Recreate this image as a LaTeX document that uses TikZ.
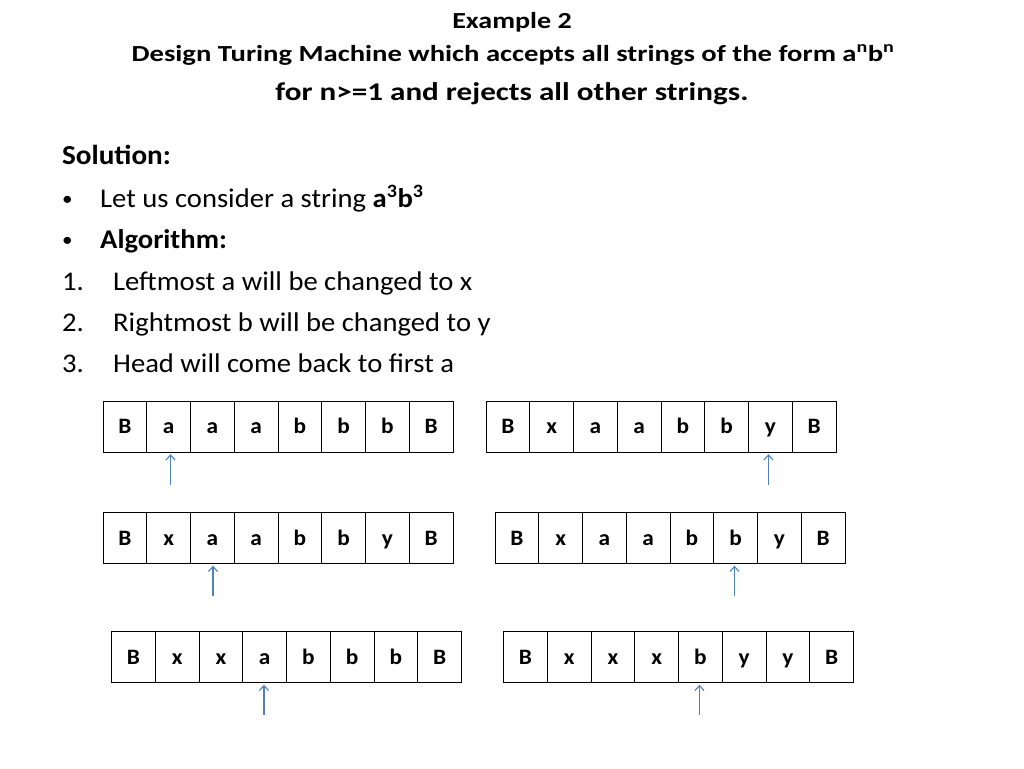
\documentclass[tikz,border=0pt]{standalone}
\usepackage{fontspec}
\setmainfont[FakeStretch=1.06]{Carlito}
\newfontfamily\titlefont[FakeStretch=1.22]{Carlito}
\newfontfamily\titlefontb[FakeStretch=1.245]{Carlito}
\usetikzlibrary{arrows.meta}
\definecolor{headblue}{RGB}{79,129,189}
\tikzset{
  cell/.style={draw=black, line width=1.2pt, minimum width=43.75pt, minimum height=51pt,
    inner sep=0pt, text height=14pt, text depth=0pt,
    font=\fontsize{22}{24}\selectfont\bfseries},
  txt/.style={anchor=base west, inner sep=0pt, font=\fontsize{27}{30}\selectfont},
  ctxt/.style={anchor=base, inner sep=0pt},
  headarrow/.style={draw=headblue, line width=1.1pt, -{Straight Barb[length=5pt,width=9pt]}}
}
\newcommand{\tapeline}[4]{%
  \foreach \s [count=\i] in {#4} {
    \node[cell, anchor=north west] (#1c\i) at ({#2+(\i-1)*43.75}, #3) {\s};
  }}
\begin{document}
\begin{tikzpicture}[x=1pt, y=-1pt]
\useasboundingbox[fill=white] (0,0) rectangle (1024,768);
% title
\node[ctxt, font=\titlefont\fontsize{23}{26}\selectfont\bfseries] (t1) at (512,29) {Example 2};
\node[ctxt, font=\titlefontb\fontsize{23}{26}\selectfont\bfseries] (t2) at (513,62) {Design Turing Machine which accepts all strings of the form a\textsuperscript{n}b\textsuperscript{n}};
\node[ctxt, font=\titlefont\fontsize{25.5}{28}\selectfont\bfseries] (t3) at (512,100) {for n>=1 and rejects all other strings.};
% body
\node[txt, font=\fontsize{27.5}{30}\selectfont\bfseries] (sol) at (62,164) {Solution:};
\node[txt, font=\fontsize{20}{24}\selectfont] (b1) at (62,205) {•};
\node[txt] (l1) at (100,207) {Let us consider a string \textbf{a\textsuperscript{3}b\textsuperscript{3}}};
\node[txt, font=\fontsize{20}{24}\selectfont] (b2) at (62,246) {•};
\node[txt, font=\fontsize{27}{30}\selectfont\bfseries] (l2) at (100,248) {Algorithm:};
\node[txt] (n1) at (62,290) {1.};
\node[txt] (l3) at (113,290) {Leftmost a will be changed to x};
\node[txt] (n2) at (62,331) {2.};
\node[txt] (l4) at (113,331) {Rightmost b will be changed to y};
\node[txt] (n3) at (62,372) {3.};
\node[txt] (l5) at (113,372) {Head will come back to first a};
% tapes
\tapeline{ta}{102.5}{400.5}{B,a,a,a,b,b,b,B}
\tapeline{tb}{485.5}{400.5}{B,x,a,a,b,b,y,B}
\tapeline{tc}{102.5}{512}{B,x,a,a,b,b,y,B}
\tapeline{td}{494.5}{512}{B,x,a,a,b,b,y,B}
\tapeline{te}{111}{631}{B,x,x,a,b,b,b,B}
\tapeline{tf}{503}{631}{B,x,x,x,b,y,y,B}
% heads
\coordinate (fa) at (170.5,485);
\coordinate (fb) at (768.5,485);
\coordinate (fc) at (213,596);
\coordinate (fd) at (734.5,596);
\coordinate (fe) at (264,715);
\coordinate (ff) at (699.5,715);
\draw[headarrow] (fa) -- ([yshift=-1.5pt]fa |- tac2.south);
\draw[headarrow] (fb) -- ([yshift=-1.5pt]fb |- tbc7.south);
\draw[headarrow] (fc) -- ([yshift=-1.5pt]fc |- tcc3.south);
\draw[headarrow] (fd) -- ([yshift=-1.5pt]fd |- tdc6.south);
\draw[headarrow] (fe) -- ([yshift=-1.5pt]fe |- tec4.south);
\draw[headarrow] (ff) -- ([yshift=-1.5pt]ff |- tfc5.south);
\end{tikzpicture}
\end{document}
